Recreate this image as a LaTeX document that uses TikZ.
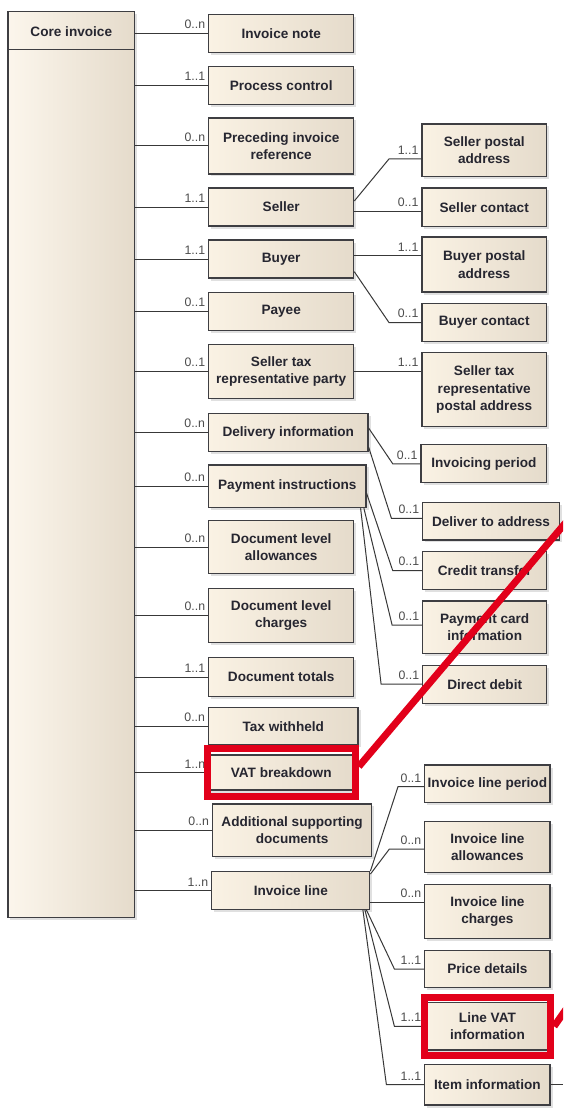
\documentclass[tikz,border=0pt]{standalone}
\usepackage{fontspec}
\setmainfont{Liberation Sans}
\usepackage{tikz,xcolor}
\usetikzlibrary{shadows,fit}

\definecolor{boxlight}{RGB}{250,242,228}
\definecolor{boxdark}{RGB}{229,219,203}
\definecolor{boxedge}{RGB}{62,62,66}
\definecolor{boxtext}{RGB}{38,38,48}
\definecolor{hired}{RGB}{226,0,26}

\tikzset{
  cls/.style={draw=boxedge, line width=1.2pt, left color=boxlight, right color=boxdark,
    drop shadow={shadow xshift=2.5pt, shadow yshift=-2.5pt, fill=black!40, opacity=.3},
    align=center, inner sep=0pt, text=boxtext,
    font=\fontsize{13.6}{17.5}\selectfont\bfseries,
    minimum width=145pt, minimum height=38pt},
  subcls/.style={cls, minimum width=124.5pt},
  assoc/.style={draw=black!78, line width=1pt},
  mult/.style={font=\fontsize{12.3}{13}\selectfont, text=black!70, inner xsep=2.5pt, inner ysep=4pt},
  hilite/.style={draw=hired, line width=7pt},
  hiline/.style={hired, line width=7pt}
}

\begin{document}
\begin{tikzpicture}[x=1pt,y=-1pt]
  \useasboundingbox[fill=white] (0,0) rectangle (563,1110);

  % the aggregate on the left
  \node[cls, minimum width=126.7pt, minimum height=906pt, left color=boxlight!70!white] (core) at (71.3,464.3) {};
  \node[font=\fontsize{13.6}{17.5}\selectfont\bfseries, text=boxtext] (coretitle) at (71.3,32) {Core invoice};
  \draw[draw=boxedge, line width=1.2pt] (core.west |- 0,49.3) -- (core.east |- 0,49.3);

  % first level
  \node[cls] (note)    at (281.2,33.3)  {Invoice note};
  \node[cls] (proc)    at (281.2,85.2)  {Process control};
  \node[cls, minimum height=56pt] (preced) at (281.2,146) {Preceding invoice\\reference};
  \node[cls] (seller)  at (281.2,207)   {Seller};
  \node[cls] (buyer)   at (281.2,259)   {Buyer};
  \node[cls] (payee)   at (281.2,311.2) {Payee};
  \node[cls, minimum height=54pt] (strp) at (281.2,371.3) {Seller tax\\representative party};
  \node[cls, minimum width=159.4pt] (deliv) at (288.3,432.5) {Delivery information};
  \node[cls, minimum width=157.4pt, minimum height=42.7pt] (payinst) at (287.3,486.3) {Payment instructions};
  \node[cls, minimum height=52.6pt] (dla) at (281.2,547) {Document level\\allowances};
  \node[cls, minimum height=54.4pt] (dlc) at (281.2,615.5) {Document level\\charges};
  \node[cls, minimum height=39.4pt] (totals) at (281.2,677) {Document totals};
  \node[cls, minimum width=149.4pt, minimum height=37.3pt] (taxw) at (283.3,726.3) {Tax withheld};
  \node[cls, minimum height=35pt] (vat) at (281.2,772.5) {VAT breakdown};
  \node[cls, minimum width=159pt, minimum height=52.7pt] (asd) at (292.1,830.3) {Additional supporting\\documents};
  \node[cls, minimum width=158pt, minimum height=37.6pt] (line) at (290.8,890.5) {Invoice line};

  % second level
  \node[subcls, minimum height=52.7pt] (spa) at (484.2,150.3) {Seller postal\\address};
  \node[subcls, minimum height=38.7pt] (scont) at (484.2,207.3) {Seller contact};
  \node[subcls, minimum height=55pt] (bpa) at (484.2,264.5) {Buyer postal\\address};
  \node[subcls] (bcont) at (484.2,322.5) {Buyer contact};
  \node[subcls, minimum height=74pt] (strpa) at (484.2,389.7) {Seller tax\\representative\\postal address};
  \node[subcls, minimum width=125.7pt] (period) at (483.9,463.8) {Invoicing period};
  \node[subcls, minimum width=136.6pt, minimum height=37.3pt] (delto) at (491,521.3) {Deliver to address};
  \node[subcls, minimum width=124pt] (credit) at (484.7,570.5) {Credit transfer};
  \node[subcls, minimum width=124pt, minimum height=52.3pt] (card) at (484.7,627.2) {Payment card\\information};
  \node[subcls, minimum width=124pt] (debit) at (484.7,684.2) {Direct debit};
  \node[subcls, minimum width=125.2pt, minimum height=37.3pt] (lperiod) at (487.4,783.7) {Invoice line period};
  \node[subcls, minimum width=125.2pt, minimum height=51pt] (lallow) at (487.4,847.2) {Invoice line\\allowances};
  \node[subcls, minimum width=125.2pt, minimum height=54pt] (lcharge) at (487.4,911.3) {Invoice line\\charges};
  \node[subcls, minimum width=125.2pt, minimum height=36.6pt] (price) at (487.4,969) {Price details};
  \node[subcls, minimum width=125.2pt, minimum height=47.3pt] (linevat) at (487.4,1026.3) {Line VAT\\information};
  \node[subcls, minimum width=125.2pt, minimum height=40.7pt] (item) at (487.4,1084.7) {Item information};
  \coordinate (itemout) at (563,1084.7);

  % core associations
  \foreach \n/\m in {note/{0..n}, proc/{1..1}, preced/{0..n}, seller/{1..1}, buyer/{1..1},
      payee/{0..1}, strp/{0..1}, deliv/{0..n}, payinst/{0..n}, dla/{0..n}, dlc/{0..n},
      totals/{1..1}, taxw/{0..n}, vat/{1..n}, asd/{0..n}, line/{1..n}}{
    \draw[assoc] (core.east |- \n.west) -- node[mult, pos=1, above left] {\m} (\n.west);
  }

  % nested associations
  \draw[assoc] ([yshift=6pt]seller.east) -- ([xshift=-32.4pt,yshift=-8.7pt]spa.west) -- node[mult, pos=1, above left] {1..1} ([yshift=-8.7pt]spa.west);
  \draw[assoc] ([yshift=-4.4pt]seller.east) -- node[mult, pos=1, above left] {0..1} ([yshift=-4.4pt]seller.east -| scont.west);
  \draw[assoc] ([yshift=3.3pt]buyer.east) -- node[mult, pos=1, above left] {1..1} ([yshift=3.3pt]buyer.east -| bpa.west);
  \draw[assoc] ([yshift=-12.7pt]buyer.east) -- ([xshift=-32.4pt]bcont.west) -- node[mult, pos=1, above left] {0..1} (bcont.west);
  \draw[assoc] (strp.east) -- node[mult, pos=1, above left] {1..1} (strp.east -| strpa.west);
  \draw[assoc] ([yshift=4.5pt]deliv.east) -- ([xshift=-27.7pt]period.west) -- node[mult, pos=1, above left] {0..1} (period.west);
  \draw[assoc] ([yshift=-14.5pt]deliv.east) -- ([xshift=-30.7pt,yshift=3pt]delto.west) -- node[mult, pos=1, above left] {0..1} ([yshift=3pt]delto.west);
  \draw[assoc] ([yshift=-7pt]payinst.east) -- ([xshift=-29.4pt]credit.west) -- node[mult, pos=1, above left] {0..1} (credit.west);
  \draw[assoc] ([xshift=-2.7pt]payinst.south east) -- ([xshift=-30pt,yshift=2.2pt]card.west) -- node[mult, pos=1, above left] {0..1} ([yshift=2.2pt]card.west);
  \draw[assoc] ([xshift=-6pt]payinst.south east) -- ([xshift=-41pt]debit.west) -- node[mult, pos=1, above left] {0..1} (debit.west);
  \draw[assoc] (line.north east) -- ([xshift=-26.2pt,yshift=-3pt]lperiod.west) -- node[mult, pos=1, above left] {0..1} ([yshift=-3pt]lperiod.west);
  \draw[assoc] ([yshift=-3pt]line.north east) -- ([xshift=-34.8pt,yshift=-1.8pt]lallow.west) -- node[mult, pos=1, above left] {0..n} ([yshift=-1.8pt]lallow.west);
  \draw[assoc] ([yshift=-11.8pt]line.east) -- node[mult, pos=1, above left] {0..n} ([yshift=-11.8pt]line.east -| lcharge.west);
  \draw[assoc] ([xshift=-4pt]line.south east) -- ([xshift=-29.8pt]price.west) -- node[mult, pos=1, above left] {1..1} (price.west);
  \draw[assoc] ([xshift=-5.5pt]line.south east) -- ([xshift=-29.8pt]linevat.west) -- node[mult, pos=1, above left] {1..1} (linevat.west);
  \draw[assoc] ([xshift=-7.5pt]line.south east) -- ([xshift=-37.8pt]item.west) -- node[mult, pos=1, above left] {1..1} (item.west);
  \draw[assoc] (item.east) -- (itemout);

  % red highlights
  \node[hilite, fit=(vat), inner xsep=1pt, inner ysep=5.5pt] (vatmark) {};
  \node[hilite, fit=(linevat), inner xsep=0pt, inner ysep=4.5pt] (linevatmark) {};
  \coordinate (vatfar) at (590,494);
  \coordinate (linevatfar) at (590,975);
  \begin{scope}
    \clip (0,0) rectangle (563,1110);
    \draw[hiline] ([yshift=6pt]vatmark.east) -- (vatfar);
    \draw[hiline] (linevatmark.east) -- (linevatfar);
  \end{scope}
\end{tikzpicture}
\end{document}
